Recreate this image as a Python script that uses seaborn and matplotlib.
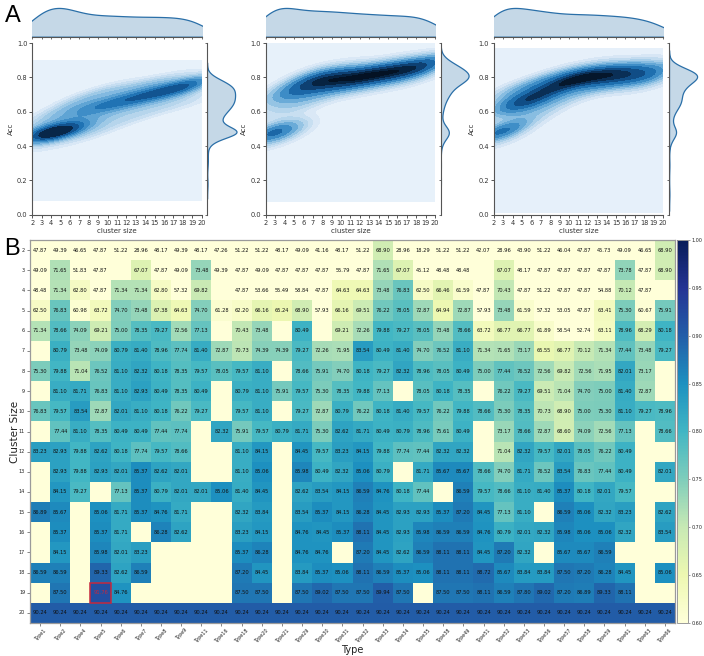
import matplotlib
matplotlib.use("Agg")
import matplotlib.pyplot as plt
from matplotlib.colors import LinearSegmentedColormap
from matplotlib.patches import Rectangle
import numpy as np
import pandas as pd
import seaborn as sns

sns.set_style("white")
plt.rcParams['font.family'] = ['DejaVu Sans']

# ---------- heatmap data (percent, None = blank cell) ----------
type_labels = ["Type1","Type2","Type4","Type5","Type6","Type7","Type8","Type9","Type11","Type16",
               "Type18","Type20","Type21","Type29","Type30","Type31","Type32","Type33","Type34","Type35",
               "Type38","Type49","Type51","Type52","Type53","Type56","Type57","Type58","Type59","Type61",
               "Type63","Type66"]
cluster_sizes = list(range(2, 21))
_ = None
type_acc = [
 [47.87,49.39,46.65,47.87,51.22,28.96,48.17,49.39,48.17,47.26,51.22,51.22,48.17,49.09,41.16,48.17,51.22,68.90,28.96,18.29,51.22,51.22,42.07,28.96,43.90,51.22,46.04,47.87,45.73,49.09,46.65,68.90],
 [49.09,71.65,51.83,47.87,_,67.07,47.87,49.09,73.48,49.39,47.87,49.09,47.87,47.87,47.87,55.79,47.87,71.65,67.07,45.12,48.48,48.48,_,67.07,48.17,47.87,47.87,47.87,47.87,73.78,47.87,68.90],
 [48.48,71.34,62.80,47.87,71.34,71.34,62.80,57.32,69.82,_,47.87,53.66,55.49,58.84,47.87,64.63,64.63,73.48,76.83,62.50,66.46,61.59,47.87,70.43,47.87,51.22,47.87,47.87,54.88,70.12,47.87,_],
 [62.50,76.83,60.98,63.72,74.70,73.48,67.38,64.63,74.70,61.28,62.20,66.16,65.24,68.90,57.93,66.16,69.51,76.22,78.05,72.87,64.94,72.87,57.93,73.48,61.59,57.32,53.05,47.87,63.41,75.30,60.67,75.91],
 [71.34,78.66,74.09,69.21,75.00,78.35,79.27,72.56,77.13,_,70.43,73.48,_,80.49,_,69.21,72.26,79.88,79.27,78.05,73.48,78.66,63.72,66.77,66.77,61.89,58.54,52.74,63.11,78.96,68.29,80.18],
 [_,80.79,73.48,74.09,80.79,81.40,78.96,77.74,81.40,72.87,70.73,74.39,74.39,79.27,72.26,71.95,83.54,80.49,81.40,74.70,76.52,81.10,71.34,71.65,73.17,65.55,66.77,70.12,71.34,77.44,73.48,79.27],
 [75.30,79.88,71.04,76.52,81.10,82.32,80.18,78.35,79.57,78.05,79.57,81.10,_,78.66,75.91,74.70,80.18,79.27,82.32,78.96,78.05,80.49,75.00,77.44,76.52,72.56,69.82,72.56,71.95,82.01,73.17,_],
 [_,81.10,81.71,76.83,81.10,82.93,80.49,78.35,80.49,_,80.79,81.10,75.91,79.57,75.30,78.35,79.88,77.13,_,78.05,80.18,78.35,_,76.22,79.27,69.51,71.04,74.70,75.00,81.40,72.87,_],
 [76.83,79.57,83.54,72.87,82.01,81.10,80.18,76.22,79.27,_,79.57,81.10,_,79.27,72.87,80.79,76.22,80.18,81.40,79.57,76.22,79.88,78.66,75.30,78.35,70.73,68.90,75.00,75.30,81.10,79.27,78.96],
 [_,77.44,81.10,78.35,80.49,80.49,77.44,77.74,_,82.32,75.91,79.57,80.79,81.71,75.30,82.62,81.71,80.49,80.79,78.96,75.61,80.49,_,73.17,78.66,72.87,68.60,74.09,72.56,77.13,_,78.66],
 [83.23,82.93,79.88,82.62,80.18,77.74,79.57,78.66,_,_,81.10,84.15,_,84.45,79.57,83.23,84.15,79.88,77.74,77.44,82.32,82.32,_,71.04,82.32,79.57,82.01,78.05,76.22,80.49,_,_],
 [_,82.93,79.88,82.93,82.01,85.37,82.62,82.01,_,_,81.10,85.06,_,85.98,80.49,82.32,85.06,80.79,_,81.71,85.67,85.67,78.66,74.70,81.71,76.52,83.54,76.83,77.44,80.49,_,82.01],
 [_,84.15,79.27,_,77.13,85.37,80.79,82.01,82.01,85.06,81.40,84.45,_,82.62,83.54,84.15,86.59,84.76,80.18,77.44,_,86.59,79.57,78.66,81.10,81.40,85.37,80.18,82.01,79.57,_,_],
 [86.89,85.67,_,85.06,81.71,85.37,84.76,81.71,_,_,82.32,83.84,_,83.54,85.37,84.15,86.28,84.45,82.93,82.93,85.37,87.20,84.45,77.13,81.10,_,86.59,85.06,82.32,83.23,_,82.62],
 [_,85.37,_,85.37,81.71,_,86.28,82.62,_,_,83.23,84.15,_,84.76,84.45,85.37,88.11,84.45,82.93,85.98,86.59,86.59,84.76,80.79,82.01,82.32,85.98,85.06,85.06,82.32,_,83.54],
 [_,84.15,_,85.98,82.01,83.23,_,_,_,_,85.37,86.28,_,84.76,84.76,_,87.20,84.45,82.62,86.59,88.11,88.11,84.45,87.20,82.32,_,85.67,85.67,86.59,_,_,_],
 [86.59,86.59,_,89.33,82.62,86.59,_,_,_,_,87.20,84.45,_,83.84,85.37,85.06,88.11,86.59,85.37,85.06,88.11,88.11,88.72,85.67,83.84,83.84,87.50,87.20,86.28,84.45,_,85.06],
 [_,87.50,_,91.76,84.76,_,_,_,_,_,87.50,87.50,_,87.50,89.02,87.50,87.50,89.94,87.50,_,87.50,87.50,88.11,86.59,87.80,89.02,87.20,86.89,89.33,88.11,_,_],
 [90.24]*32,
]
best_type, best_size = "Type5", 19

# ---------- KDE samples: Acc values read per cluster size 2..20 ----------
acc_a = [
 [.18,.29,.36,.41,.44,.46,.47,.48,.48,.49,.49,.5,.51,.53,.55],
 [.33,.42,.44,.46,.47,.47,.47,.48,.48,.48,.48,.49,.49,.49,.5,.51,.52,.54,.56,.58],
 [.42,.44,.46,.47,.47,.47,.47,.48,.48,.48,.48,.48,.48,.49,.49,.49,.49,.5,.5,.52,.55,.58,.6],
 [.43,.45,.46,.47,.47,.47,.47,.48,.48,.48,.48,.48,.48,.49,.49,.49,.5,.52,.55,.58,.6,.62,.64],
 [.43,.45,.47,.47,.48,.48,.48,.48,.49,.49,.5,.52,.55,.57,.59,.6,.62,.63,.65,.67],
 [.44,.46,.48,.5,.53,.55,.57,.59,.6,.61,.62,.63,.64,.66,.68,.7],
 [.45,.48,.5,.53,.55,.57,.59,.6,.61,.62,.63,.64,.66,.68,.7],
 [.47,.5,.53,.56,.58,.6,.61,.62,.63,.64,.65,.67,.69,.71,.73],
 [.5,.53,.56,.58,.6,.62,.63,.64,.65,.65,.66,.68,.7,.72,.74],
 [.52,.55,.58,.6,.62,.64,.65,.65,.66,.67,.68,.7,.72,.74,.75],
 [.54,.57,.6,.62,.64,.65,.66,.67,.67,.68,.69,.71,.73,.75],
 [.56,.59,.62,.64,.66,.67,.68,.68,.69,.7,.71,.73,.75,.76],
 [.58,.61,.64,.66,.67,.68,.69,.69,.7,.71,.72,.74,.76,.77],
 [.6,.63,.65,.67,.69,.7,.7,.71,.71,.72,.73,.75,.77,.78],
 [.61,.64,.67,.69,.7,.71,.72,.72,.73,.73,.74,.76,.78,.79],
 [.63,.66,.68,.7,.71,.72,.73,.73,.74,.74,.75,.77,.79,.8],
 [.64,.67,.7,.72,.73,.74,.74,.75,.75,.76,.77,.78,.8],
 [.65,.68,.71,.73,.74,.75,.75,.76,.76,.77,.78,.79,.8],
 [.66,.69,.72,.74,.75,.76,.76,.77,.77,.78,.79,.8],
]
acc_b = [
 [.19,.29,.41,.44,.46,.47,.47,.48,.48,.48,.48,.48,.49,.49,.49,.5,.52,.56,.6,.66,.7],
 [.41,.44,.46,.47,.47,.48,.48,.48,.48,.48,.49,.49,.5,.52,.6,.64,.67,.69,.7,.71,.73],
 [.43,.46,.47,.47,.48,.48,.48,.48,.49,.49,.5,.6,.64,.66,.68,.7,.7,.71,.73,.75],
 [.45,.47,.49,.6,.63,.65,.67,.68,.7,.7,.71,.73,.74,.76,.78,.8],
 [.6,.63,.66,.68,.7,.72,.73,.74,.75,.76,.77,.78,.79,.8,.81,.83],
 [.65,.68,.7,.72,.74,.75,.76,.77,.78,.78,.79,.79,.8,.81,.82,.84],
 [.68,.71,.73,.75,.76,.77,.78,.78,.79,.79,.79,.8,.8,.81,.82,.84],
 [.7,.73,.75,.76,.77,.78,.78,.79,.79,.79,.8,.8,.81,.82,.83,.85],
 [.71,.74,.75,.76,.77,.78,.79,.79,.79,.8,.8,.81,.82,.83,.85],
 [.72,.74,.76,.77,.78,.79,.79,.8,.8,.8,.81,.81,.82,.84,.85],
 [.73,.75,.77,.78,.79,.8,.8,.8,.81,.81,.81,.82,.83,.85],
 [.74,.76,.78,.79,.8,.8,.81,.81,.81,.82,.82,.83,.85,.86],
 [.75,.77,.79,.8,.81,.81,.82,.82,.82,.83,.83,.84,.86,.87],
 [.76,.78,.8,.81,.82,.82,.83,.83,.83,.84,.85,.87,.88],
 [.77,.79,.81,.82,.83,.83,.84,.84,.84,.85,.86,.88,.89],
 [.78,.8,.82,.83,.84,.84,.85,.85,.85,.86,.87,.88,.89],
 [.79,.81,.83,.84,.85,.85,.86,.86,.86,.87,.88,.89,.9],
 [.8,.82,.84,.85,.86,.86,.87,.87,.87,.88,.89,.9],
 [.81,.83,.85,.86,.87,.87,.88,.88,.88,.89,.9,.9],
]
acc_c = [
 [.12,.29,.41,.44,.46,.47,.47,.48,.48,.48,.48,.49,.49,.49,.5,.53,.58,.62,.66,.7],
 [.42,.45,.47,.47,.48,.48,.48,.48,.49,.49,.5,.56,.6,.62,.63,.64,.66,.68,.7,.72],
 [.44,.46,.48,.49,.52,.58,.6,.62,.63,.64,.65,.66,.67,.69,.71,.73,.75],
 [.53,.56,.59,.61,.63,.64,.65,.65,.66,.66,.67,.68,.7,.72,.74,.76],
 [.54,.57,.6,.62,.63,.65,.66,.66,.67,.68,.69,.7,.72,.74,.76,.78],
 [.56,.6,.63,.65,.67,.68,.69,.7,.71,.72,.73,.75,.77,.79,.8],
 [.6,.63,.66,.68,.7,.71,.72,.73,.74,.75,.76,.78,.8,.82],
 [.63,.66,.69,.72,.74,.75,.76,.77,.78,.79,.8,.82,.83],
 [.66,.69,.73,.75,.77,.78,.78,.79,.79,.8,.81,.83,.84],
 [.7,.72,.75,.77,.78,.79,.79,.8,.8,.81,.82,.84,.85],
 [.72,.74,.77,.79,.8,.8,.8,.81,.81,.82,.83,.85,.86],
 [.73,.75,.78,.79,.8,.81,.81,.81,.82,.82,.83,.85,.86],
 [.74,.76,.78,.8,.81,.81,.81,.82,.82,.83,.84,.86],
 [.75,.76,.79,.8,.81,.81,.82,.82,.82,.83,.85,.86],
 [.75,.77,.79,.8,.81,.82,.82,.82,.83,.84,.85,.86],
 [.76,.77,.79,.81,.81,.82,.82,.83,.83,.85,.86],
 [.76,.77,.8,.81,.82,.82,.82,.83,.84,.86],
 [.76,.78,.8,.81,.82,.82,.83,.84,.86],
 [.77,.78,.8,.81,.82,.83,.84,.86],
]
panel_letters = ["A", "B"]
acc_ticks = [0.0, 0.2, 0.4, 0.6, 0.8, 1.0]

W, H = 704, 656
fig = plt.figure(figsize=(W/100, H/100), dpi=100)

def box(x0, y0, x1, y1):
    return fig.add_axes([x0/W, 1-y1/H, (x1-x0)/W, (y1-y0)/H])

kde_cmap = LinearSegmentedColormap.from_list("kde", ['#edf5fc','#d6e6f5','#b2d3eb','#7fb8df','#4a97cd',
                                                    '#2277b8','#125592','#0a3058','#030d1a'])
kde_levels = [0, .05, .10, .16, .23, .32, .43, .56, .70, .83, .94, 1.0]
GREY = '#555555'
LAB = 4.8

def kde_panel(acc, x0, x1, mx0, mx1):
    xs = np.concatenate([[s]*len(v) for s, v in zip(cluster_sizes, acc)])
    ys = np.concatenate(acc)
    ax = box(x0, 43, x1, 214.7)
    sns.kdeplot(x=xs, y=ys, fill=True, thresh=0, levels=kde_levels, cmap=kde_cmap, bw_adjust=0.95, cut=2.3, ax=ax, gridsize=200)
    ax.set_xlim(2, 20); ax.set_ylim(0, 1)
    ax.set_xticks(cluster_sizes); ax.set_yticks(acc_ticks)
    ax.set_xlabel("cluster size", fontsize=5, labelpad=1.5, color='#333333')
    ax.set_ylabel("Acc", fontsize=5, labelpad=2, color='#333333')
    ax.tick_params(labelsize=LAB, length=2, width=.7, pad=1.5, bottom=True, left=True, color=GREY, labelcolor='#333333')
    sns.despine(ax=ax)
    for s in ('left','bottom'):
        ax.spines[s].set_linewidth(.8); ax.spines[s].set_color(GREY)
    top = box(x0, 6.5, x1, 36.7)
    sns.kdeplot(x=xs, fill=True, color='#2a6fa8', alpha=.27, lw=.9, bw_adjust=.9, ax=top)
    top.set_xlim(2, 20); top.set_ylim(0, None)
    top.set_xticks(cluster_sizes); top.set_yticks([])
    top.set_xticklabels([]); top.set_xlabel(""); top.set_ylabel("")
    top.tick_params(length=1.5, width=.6, bottom=True, color=GREY)
    sns.despine(ax=top, left=True)
    top.spines['bottom'].set_linewidth(.8); top.spines['bottom'].set_color(GREY)
    r = box(mx0, 43, mx1, 214.7)
    sns.kdeplot(y=ys, fill=True, color='#2a6fa8', alpha=.27, lw=.9, bw_adjust=.8, ax=r)
    r.set_ylim(0, 1); r.set_xlim(0, None)
    r.set_yticks(acc_ticks); r.set_yticklabels([]); r.set_xticks([])
    r.set_xlabel(""); r.set_ylabel("")
    r.tick_params(length=1.5, width=.6, left=True, color=GREY)
    sns.despine(ax=r, bottom=True)
    r.spines['left'].set_linewidth(.8); r.spines['left'].set_color(GREY)

kde_panel(acc_a, 32.3, 201.7, 207, 238)
kde_panel(acc_b, 265.7, 435, 440.7, 470)
kde_panel(acc_c, 493.7, 663, 669, 698.5)

# ---------- heatmap ----------
df_pct = pd.DataFrame(type_acc, index=cluster_sizes, columns=type_labels, dtype=float)
hm = box(30, 240, 675, 623)
cax = box(677, 240, 687.5, 623)
hm.set_facecolor('#ffffd9')
labels = df_pct.map(lambda v: "" if pd.isna(v) else f"{v:.2f}")
sns.heatmap(df_pct/100, cmap="YlGnBu", vmin=.6, vmax=1.0, annot=labels, fmt="",
            annot_kws=dict(fontsize=3.7, color='#111111'), ax=hm, cbar_ax=cax,
            cbar_kws=dict(ticks=np.arange(.6, 1.01, .05), format="%.2f"))
hm.set_xticklabels(type_labels, rotation=45, ha='center', fontsize=3.5, color='#222222')
hm.set_yticklabels(cluster_sizes, rotation=0, fontsize=3.5, color='#222222')
hm.tick_params(length=2, width=.5, pad=1.5, bottom=True, left=True, color=GREY)
hm.set_xlabel("Type", fontsize=7, labelpad=1, color='#222222')
hm.set_ylabel("Cluster Size", fontsize=7.5, labelpad=-1, color='#222222')
for s in hm.spines.values():
    s.set_visible(True); s.set_linewidth(.9); s.set_color('#9a9a9a')
cax.tick_params(labelsize=3.5, length=1.5, width=.4, pad=1.5, right=True, color=GREY)
cbar = hm.collections[0].colorbar
cbar.outline.set_visible(True)
cbar.outline.set_linewidth(.7)
cbar.outline.set_edgecolor('#9a9a9a')

col = type_labels.index(best_type); row = cluster_sizes.index(best_size)
hm.add_patch(Rectangle((col, row), 1, 1, fill=False, edgecolor='#c5283d', lw=1.1, zorder=5, clip_on=False))
for t in hm.texts:
    if t.get_text() == f"{df_pct.loc[best_size, best_type]:.2f}":
        t.set_color('#c5283d')

letter_font = ['Liberation Sans', 'DejaVu Sans']
fig.text(5/W, 1-22/H, panel_letters[0], fontsize=17, family=letter_font, color='black', va='baseline')
fig.text(4/W, 1-255/H, panel_letters[1], fontsize=17, family=letter_font, color='black', va='baseline')
fig.savefig("out.png", dpi=100)
